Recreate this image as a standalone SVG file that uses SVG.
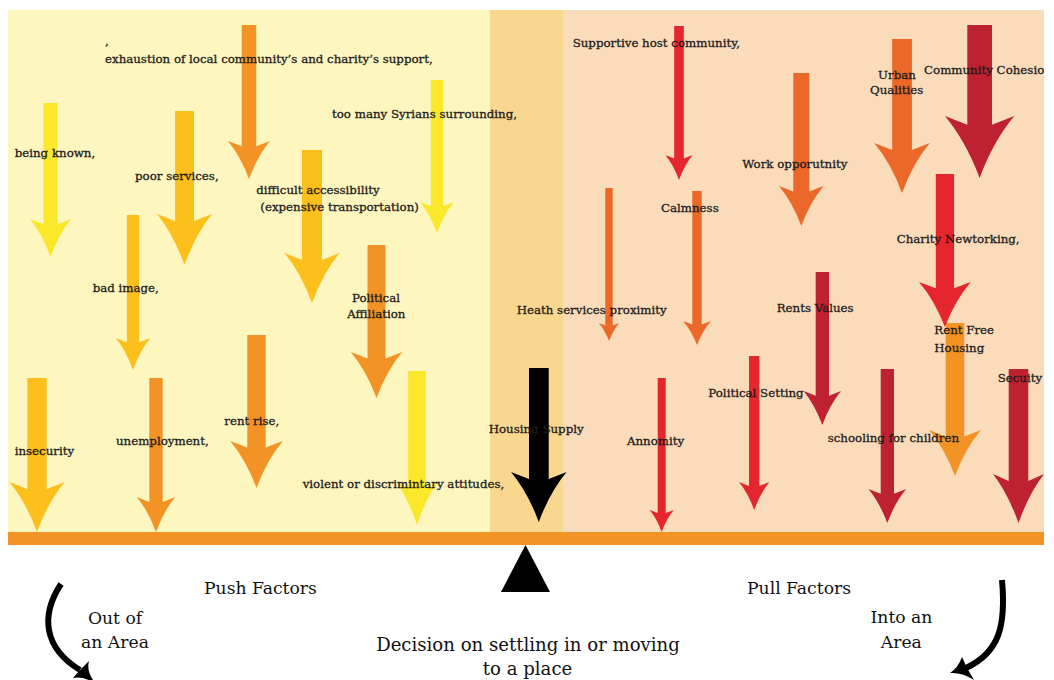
<svg xmlns="http://www.w3.org/2000/svg" width="1054" height="680" viewBox="0 0 1054 680">
  <style>
    .lbl { font-family: "DejaVu Serif", "Liberation Serif", serif; font-size: 11.8px; fill: #1e1b1c; stroke: #1e1b1c; stroke-width: 0.3px; }
    .big { font-family: "DejaVu Serif", "Liberation Serif", serif; font-size: 17.2px; fill: #111; }
    .dec { font-size: 18.1px; }
    .mid { text-anchor: middle; }
    .yel { fill: #fce82a; }
    .gold { fill: #fdbf1c; }
    .org { fill: #f39325; }
    .ored { fill: #eb6828; }
    .red { fill: #e5262c; }
    .dred { fill: #be2132; }
    .blk { fill: #000; }
    .curve { fill: none; stroke: #000; stroke-width: 6; }
  </style>
  <defs>
    <clipPath id="panelClip">
      <rect x="0" y="0" width="1044" height="680"/>
    </clipPath>
  </defs>

  <!-- background panels -->
  <g id="background">
    <rect x="0" y="0" width="1054" height="680" fill="#ffffff"/>
    <rect x="8" y="10" width="482" height="522" fill="#fdf6bf"/>
    <rect x="490" y="10" width="73" height="522" fill="#f9d78e"/>
    <rect x="563" y="10" width="481" height="522" fill="#fadcbb"/>
  </g>

  <!-- push factors -->
  <g id="push-being-known">
    <path class="yel" d="M43.5,103H57.5V224.3L71,219Q58.7,234.2 50.5,257Q42.3,234.2 30,219L43.5,224.3Z"/>
    <text class="lbl" x="14.7" y="157">being known,</text>
  </g>
  <g id="push-poor-services">
    <path class="gold" d="M175,111H194V221.1L212,214Q195.5,234.4 184.5,265Q173.5,234.4 157,214L175,221.1Z"/>
    <text class="lbl" x="135" y="180">poor services,</text>
  </g>
  <g id="push-exhaustion">
    <path class="org" d="M241.7,25H256.3V146.3L270,141Q257.4,156.2 249,179Q240.6,156.2 228,141L241.7,146.3Z"/>
    <text class="lbl" x="105" y="45">,</text>
    <text class="lbl" x="105" y="62.7">exhaustion of local community’s and charity’s support,</text>
  </g>
  <g id="push-accessibility">
    <path class="gold" d="M302,150H322V260L339.5,253Q323,273 312,303Q301,273 284.5,253L302,260Z"/>
    <text class="lbl" x="256.3" y="194">difficult accessibility</text>
    <text class="lbl" x="260.3" y="211">(expensive transportation)</text>
  </g>
  <g id="push-syrians">
    <path class="yel" d="M430.9,80H443.1V206.3L454,202Q443.8,214.4 437,233Q430.2,214.4 420,202L430.9,206.3Z"/>
    <text class="lbl" x="332" y="118">too many Syrians surrounding,</text>
  </g>
  <g id="push-political-affiliation">
    <path class="org" d="M367.5,245H385.5V358.4L402.2,352Q386.8,370.4 376.5,398Q366.2,370.4 350.8,352L367.5,358.4Z"/>
    <text class="lbl mid" x="376" y="301.7">Political</text>
    <text class="lbl mid" x="376.3" y="318">Affiliation</text>
  </g>
  <g id="push-bad-image">
    <path class="gold" d="M126.9,215H139.1V342.5L150.2,338Q139.9,350.8 133,370Q126.1,350.8 115.8,338L126.9,342.5Z"/>
    <text class="lbl" x="92.7" y="292.3">bad image,</text>
  </g>
  <g id="push-insecurity">
    <path class="gold" d="M27.3,378H46.7V489L64.6,482Q48,502 37,532Q26,502 9.4,482L27.3,489Z"/>
    <text class="lbl" x="14.7" y="455">insecurity</text>
  </g>
  <g id="push-unemployment">
    <path class="org" d="M149.3,378H162.7V501.9L175.2,497Q163.7,511 156,532Q148.3,511 136.8,497L149.3,501.9Z"/>
    <text class="lbl" x="116" y="445">unemployment,</text>
  </g>
  <g id="push-rent-rise">
    <path class="org" d="M247.3,335H265.7V447.6L282.8,441Q267,459.8 256.5,488Q246,459.8 230.2,441L247.3,447.6Z"/>
    <text class="lbl" x="224.3" y="425">rent rise,</text>
  </g>
  <g id="push-violent">
    <path class="yel" d="M408.2,371H425.8V488L438,482Q425.4,499.2 417,525Q408.6,499.2 396,482L408.2,488Z"/>
    <text class="lbl" x="302.7" y="487.7">violent or discrimintary attitudes,</text>
  </g>

  <!-- neutral factor -->
  <g id="housing-supply">
    <path class="blk" d="M529,368H548.7V479L566.6,472Q549.9,492 538.8,522Q527.7,492 511,472L529,479Z"/>
    <text class="lbl" x="488.7" y="433">Housing Supply</text>
  </g>

  <!-- pull factors -->
  <g id="pull-supportive">
    <path class="red" d="M674.2,26H683.8V158.5L692.7,155Q684.5,165 679,180Q673.5,165 665.3,155L674.2,158.5Z"/>
    <text class="lbl" x="572.7" y="46.7">Supportive host community,</text>
  </g>
  <g id="pull-health">
    <path class="ored" d="M605.3,188H612.7V325.5L619.2,323Q613.1,330.2 609,341Q604.9,330.2 598.8,323L605.3,325.5Z"/>
    <text class="lbl" x="516.7" y="314">Heath services proximity</text>
  </g>
  <g id="pull-calmness">
    <path class="ored" d="M692.3,191H701.7V324.4L711,321Q702.6,330.6 697,345Q691.4,330.6 683,321L692.3,324.4Z"/>
    <text class="lbl" x="661" y="211.7">Calmness</text>
  </g>
  <g id="pull-work">
    <path class="ored" d="M793.3,73H809.3V191.6L823.6,186Q810.2,202 801.3,226Q792.4,202 779,186L793.3,191.6Z"/>
    <text class="lbl" x="742.3" y="167.7">Work opporutnity</text>
  </g>
  <g id="pull-urban">
    <path class="ored" d="M892.2,39H911.9V150L929.8,143Q913.1,163 902,193Q890.9,163 874.2,143L892.2,150Z"/>
    <text class="lbl mid" x="897" y="79">Urban</text>
    <text class="lbl mid" x="896.7" y="94.3">Qualities</text>
  </g>
  <g id="pull-cohesion">
    <path class="dred" d="M967.3,25H992V124.7L1014.3,116Q993.5,140.8 979.6,178Q965.7,140.8 944.9,116L967.3,124.7Z"/>
    <text class="lbl" x="924" y="74" clip-path="url(#panelClip)">Community Cohesion</text>
  </g>
  <g id="pull-rent-free">
    <path class="org" d="M945.7,323H964.3V436.4L980.9,430Q965.4,448.4 955,476Q944.6,448.4 929.1,430L945.7,436.4Z"/>
    <text class="lbl" x="934.3" y="334">Rent Free</text>
    <text class="lbl" x="934.3" y="351.7">Housing</text>
  </g>
  <g id="pull-charity">
    <path class="red" d="M935.8,174H954.1V288.3L970.8,282Q955.3,300 944.9,327Q934.5,300 919,282L935.8,288.3Z"/>
    <text class="lbl" x="896.7" y="243.3">Charity Newtorking,</text>
  </g>
  <g id="pull-rents-values">
    <path class="dred" d="M815.7,272H829V395.8L841,391Q829.8,404.6 822.3,425Q814.8,404.6 803.6,391L815.7,395.8Z"/>
    <text class="lbl" x="776.7" y="311.7">Rents Values</text>
  </g>
  <g id="pull-security">
    <path class="dred" d="M1008.7,369H1028.3V480.9L1044,474Q1029,493.6 1018.5,523Q1008,493.6 993,474L1008.7,480.9Z"/>
    <text class="lbl" x="997.7" y="381.7">Secuity</text>
  </g>
  <g id="pull-anonymity">
    <path class="red" d="M657.7,378H665.7V513.1L673.7,510Q666.5,518.8 661.7,532Q656.9,518.8 649.7,510L657.7,513.1Z"/>
    <text class="lbl" x="627" y="445">Annomity</text>
  </g>
  <g id="pull-political-setting">
    <path class="red" d="M749,356H759.4V485.9L769.4,482Q760.3,493.2 754.2,510Q748.1,493.2 739,482L749,485.9Z"/>
    <text class="lbl" x="708.3" y="396.7">Political Setting</text>
  </g>
  <g id="pull-schooling">
    <path class="dred" d="M880.7,369H894V493.8L906.2,489Q894.9,502.6 887.3,523Q879.7,502.6 868.4,489L880.7,493.8Z"/>
    <text class="lbl" x="827.7" y="441.7">schooling for children</text>
  </g>

  <!-- balance beam and pivot -->
  <g id="beam">
    <rect x="8" y="532" width="1036" height="13" fill="#f39325"/>
    <path d="M501,592L550,592L525.5,545Z" fill="#000"/>
  </g>

  <!-- captions -->
  <g id="captions">
    <text class="big" x="204" y="594">Push Factors</text>
    <text class="big" x="747" y="594">Pull Factors</text>
    <text class="big mid" x="115" y="624">Out of</text>
    <text class="big mid" x="115" y="648">an Area</text>
    <text class="big dec mid" x="528" y="651">Decision on settling in or moving</text>
    <text class="big dec mid" x="527.5" y="675">to a place</text>
    <text class="big mid" x="901.5" y="623">Into an</text>
    <text class="big mid" x="901.3" y="648">Area</text>
  </g>

  <!-- curved direction arrows -->
  <g id="connectors">
    <path class="curve" d="M61,584C40,616 44,648 80,670"/>
    <path d="M89,661Q86,672 96,684Q84,676 73,678L80,670Z" fill="#000"/>
    <path class="curve" d="M1002,580C1006,625 1000,652 966,668"/>
    <path d="M962,657Q958,668 950,673Q962,672 974,680L967,668Z" fill="#000"/>
  </g>
</svg>
